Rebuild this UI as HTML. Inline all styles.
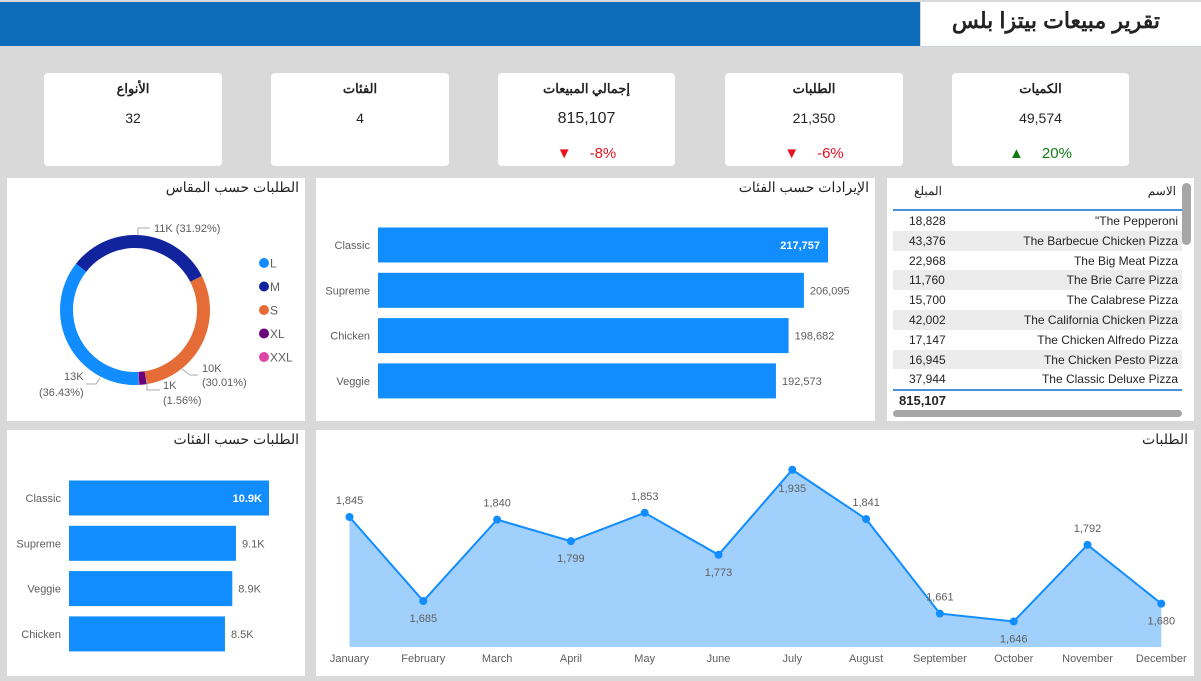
<!DOCTYPE html>
<html><head><meta charset="utf-8">
<style>
body{margin:0;width:1201px;height:681px;background:#d9d9d9;position:relative;overflow:hidden;font-family:"Liberation Sans","Noto Sans CJK SC",sans-serif;}
.abs{position:absolute;}
.card{position:absolute;background:#fff;border-radius:4px;}
.kt{position:absolute;left:0;right:0;top:8px;text-align:center;font-weight:bold;font-size:13px;color:#222;}
.kv{position:absolute;left:0;right:0;top:37px;text-align:center;font-size:14px;color:#252423;}
.kd{position:absolute;left:0;right:0;top:72px;text-align:center;font-size:15px;}
.ptitle{position:absolute;right:6px;top:1px;font-size:14px;color:#222;direction:rtl;}
svg text{font-family:"Liberation Sans",sans-serif;}
</style></head><body>
<div class="abs" style="left:0;top:2px;width:920px;height:44px;background:#0f6cbd"></div>
<div class="abs" style="left:921px;top:2px;width:280px;height:44px;background:#fff;border-bottom:1px solid #c8d4e4"></div>
<div class="abs" style="right:41px;top:8px;font-size:22px;font-weight:bold;color:#222;direction:rtl;font-family:'Liberation Sans','Noto Sans CJK SC',sans-serif">تقرير مبيعات بيتزا بلس</div>

<div class="card" style="left:44px;top:73px;width:178px;height:93px"><div class="kt">الأنواع</div><div class="kv">32</div></div>
<div class="card" style="left:271px;top:73px;width:178px;height:93px"><div class="kt">الفئات</div><div class="kv">4</div></div>
<div class="card" style="left:498px;top:73px;width:177px;height:93px"><div class="kt">إجمالي المبيعات</div><div class="kv" style="font-size:16px;top:37px">815,107</div><div class="kd" style="color:#e81123"><span style="margin-right:18px">▼</span>-8%</div></div>
<div class="card" style="left:725px;top:73px;width:178px;height:93px"><div class="kt">الطلبات</div><div class="kv">21,350</div><div class="kd" style="color:#e81123"><span style="margin-right:18px">▼</span>-6%</div></div>
<div class="card" style="left:952px;top:73px;width:177px;height:93px"><div class="kt">الكميات</div><div class="kv">49,574</div><div class="kd" style="color:#107c10"><span style="margin-right:18px">▲</span>20%</div></div>

<div class="card" style="left:7px;top:178px;width:298px;height:243px;border-radius:0"><div class="ptitle">الطلبات حسب المقاس</div></div>
<div class="card" style="left:316px;top:178px;width:559px;height:243px;border-radius:0"><div class="ptitle">الإيرادات حسب الفئات</div></div>
<div class="card" style="left:887px;top:178px;width:307px;height:243px;border-radius:0"></div>
<div class="card" style="left:7px;top:430px;width:298px;height:246px;border-radius:0"><div class="ptitle">الطلبات حسب الفئات</div></div>
<div class="card" style="left:316px;top:430px;width:878px;height:246px;border-radius:0"><div class="ptitle">الطلبات</div></div>

<!-- table -->
<div class="abs" style="left:893px;top:180px;width:289px;font-size:12px;color:#252423">
<div style="height:29px;border-bottom:2px solid #4a90d9;position:relative"><span style="position:absolute;right:6px;top:4px">الاسم</span><span style="position:absolute;left:21px;top:4px">المبلغ</span></div>
<div id="rows"></div>
<div style="border-top:2px solid #4a90d9;height:20px;position:relative"><b style="position:absolute;left:6px;top:2px;font-size:13px">815,107</b></div>
</div>
<div class="abs" style="left:1182px;top:183px;width:9px;height:62px;background:#a6a6a6;border-radius:5px"></div>
<div class="abs" style="left:893px;top:410px;width:289px;height:7px;background:#a6a6a6;border-radius:4px"></div>

<svg class="abs" style="left:0;top:0" width="1201" height="681" id="svg"></svg>

<script>
const tNames=['"The Pepperoni','The Barbecue Chicken Pizza','The Big Meat Pizza','The Brie Carre Pizza','The Calabrese Pizza','The California Chicken Pizza','The Chicken Alfredo Pizza','The Chicken Pesto Pizza','The Classic Deluxe Pizza'];
const tVals=['18,828','43,376','22,968','11,760','15,700','42,002','17,147','16,945','37,944'];
const rows=document.getElementById('rows');
tNames.forEach((n,i)=>{const d=document.createElement('div');


d.style.cssText='height:19.8px;position:relative;background:'+(i%2?'#ececec':'#fff');
d.innerHTML='<span style="position:absolute;right:4px;top:3px">'+n+'</span><span style="position:absolute;left:16px;top:3px">'+tVals[i]+'</span>';rows.appendChild(d);});

const NS='http://www.w3.org/2000/svg';const svg=document.getElementById('svg');
function el(t,a,txt){const e=document.createElementNS(NS,t);for(const k in a)e.setAttribute(k,a[k]);if(txt!==undefined)e.textContent=txt;svg.appendChild(e);return e;}

// donut
const sizeLabels=['L','M','S','XL','XXL'];
const sizeVals=[36.43,31.92,30.01,1.56,0.08];
const sizeColors=['#118dff','#12239e','#e66c37','#6b007b','#e044a7'];
const cx=135,cy=310,R=75,r=62;let ang=177;
const tot=sizeVals.reduce((a,b)=>a+b,0);
function pt(a,rad){const t=(a-90)*Math.PI/180;return [cx+rad*Math.cos(t),cy+rad*Math.sin(t)];}
sizeVals.forEach((v,i)=>{const sw=v/tot*360,a2=ang+sw;const[x1,y1]=pt(ang,R),[x2,y2]=pt(a2,R),[x3,y3]=pt(a2,r),[x4,y4]=pt(ang,r);const lg=sw>180?1:0;
const p=el('path',{d:`M${x1},${y1}A${R},${R} 0 ${lg} 1 ${x2},${y2}L${x3},${y3}A${r},${r} 0 ${lg} 0 ${x4},${y4}Z`,fill:sizeColors[i]});


ang=a2;});
const lbl=[[154,232,'11K (31.92%)'],[202,372,'10K'],[202,386,'(30.01%)'],[163,389,'1K'],[163,404,'(1.56%)'],[64,380,'13K'],[39,396,'(36.43%)']];
lbl.forEach(l=>{const t=el('text',{x:l[0],y:l[1],'font-size':11,fill:'#605e5c'},l[2]);});
el('path',{d:'M138,235V228H150',stroke:'#aaa',fill:'none'});
el('path',{d:'M182,369L190,375H198',stroke:'#aaa',fill:'none'});
el('path',{d:'M147,380V390H160',stroke:'#aaa',fill:'none'});
el('path',{d:'M100,378L96,384H86',stroke:'#aaa',fill:'none'});
sizeLabels.forEach((s,i)=>{const y=263+i*23.5;const c=el('circle',{cx:264,cy:y,r:5,fill:sizeColors[i]});const t=el('text',{x:270,y:y+4.5,'font-size':12,fill:'#605e5c'},s);});

// revenue bars
const revCats=['Classic','Supreme','Chicken','Veggie'];
const revVals=[217757,206095,198682,192573];
const revLabels=['217,757','206,095','198,682','192,573'];
const rx=v=>378+v*450/217757;
revCats.forEach((c,i)=>{const yc=245+i*45.3;const b=el('rect',{x:378,y:yc-17.5,width:rx(revVals[i])-378,height:35,fill:'#118dff'});
const t=el('text',{x:370,y:yc+4,'font-size':11,fill:'#605e5c','text-anchor':'end'},c);
const inside=i===0;const v=el('text',{x:inside?rx(revVals[i])-8:rx(revVals[i])+6,y:yc+4,'font-size':11,fill:inside?'#fff':'#605e5c','font-weight':inside?'bold':'normal','text-anchor':inside?'end':'start'},revLabels[i]);});

// orders bars
const ordCats=['Classic','Supreme','Veggie','Chicken'];
const ordVals=[10.9,9.1,8.9,8.5];
const ordLabels=['10.9K','9.1K','8.9K','8.5K'];
const ox=v=>69+v*200/10.9;
ordCats.forEach((c,i)=>{const yc=498+i*45.3;const b=el('rect',{x:69,y:yc-17.5,width:ox(ordVals[i])-69,height:35,fill:'#118dff'});
const t=el('text',{x:61,y:yc+4,'font-size':11,fill:'#605e5c','text-anchor':'end'},c);
const inside=i===0;const v=el('text',{x:inside?ox(ordVals[i])-7:ox(ordVals[i])+6,y:yc+4,'font-size':11,fill:inside?'#fff':'#605e5c','font-weight':inside?'bold':'normal','text-anchor':inside?'end':'start'},ordLabels[i]);});

// line chart
const months=['January','February','March','April','May','June','July','August','September','October','November','December'];
const monthVals=[1845,1685,1840,1799,1853,1773,1935,1841,1661,1646,1792,1680];
const lx=i=>349.5+i*73.8;const ly=v=>517-(v-1845)*0.525;const base=647;
let d='M'+lx(0)+','+base;monthVals.forEach((v,i)=>d+='L'+lx(i)+','+ly(v));d+='L'+lx(11)+','+base+'Z';
const a=el('path',{d,fill:'#a0d0fb'});
const ln=el('polyline',{points:monthVals.map((v,i)=>lx(i)+','+ly(v)).join(' '),fill:'none',stroke:'#118dff','stroke-width':2});
const above=[1,0,1,0,1,0,0,1,1,0,1,0];
monthVals.forEach((v,i)=>{const c=el('circle',{cx:lx(i),cy:ly(v),r:4,fill:'#118dff'});
const up=above[i]||i===6;const t=el('text',{x:lx(i),y:i===6?ly(v)+22:(above[i]?ly(v)-13:ly(v)+21),'font-size':11,fill:'#605e5c','text-anchor':'middle'},v.toLocaleString('en-US'));
const m=el('text',{x:lx(i),y:662,'font-size':11,fill:'#605e5c','text-anchor':'middle'},months[i]);});
</script>
</body></html>
